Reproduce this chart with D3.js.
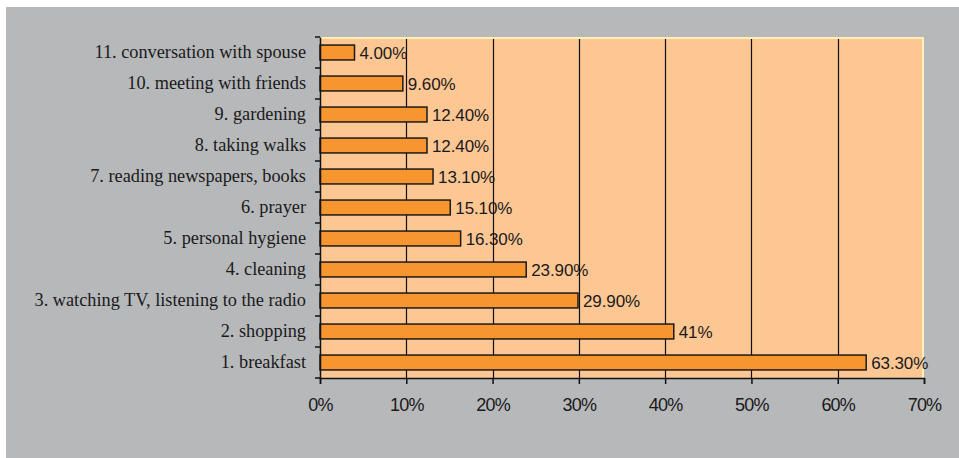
<!DOCTYPE html>
<html>
<head>
<meta charset="utf-8">
<script src="https://cdn.jsdelivr.net/npm/d3@7"></script>
<style>
  body { margin: 0; background: #fff; }
  svg { display: block; }
</style>
</head>
<body>
<svg id="chart"></svg>
<script>
// activites, du haut vers le bas
var activites = [
  "11. conversation with spouse",
  "10. meeting with friends",
  "9. gardening",
  "8. taking walks",
  "7. reading newspapers, books",
  "6. prayer",
  "5. personal hygiene",
  "4. cleaning",
  "3. watching TV, listening to the radio",
  "2. shopping",
  "1. breakfast"
];

var valeurs = [4.0, 9.6, 12.4, 12.4, 13.1, 15.1, 16.3, 23.9, 29.9, 41, 63.3];

var etiquettes = ["4.00%", "9.60%", "12.40%", "12.40%", "13.10%", "15.10%", "16.30%", "23.90%", "29.90%", "41%", "63.30%"];

var ticksX = [0, 10, 20, 30, 40, 50, 60, 70];

var W = 959, H = 458;
var marge = { left: 320, right: 35, top: 37, bottom: 80 };

var canevas = d3.select("#chart").attr("width", W).attr("height", H);

// fond gris
canevas.append("rect")
  .attr("x", 6).attr("y", 7)
  .attr("width", W - 6).attr("height", H - 7)
  .attr("fill", "#b7b8ba");

var x = d3.scaleLinear().domain([0, 70]).range([marge.left, W - marge.right]);
var y = d3.scaleBand().domain(activites).range([marge.top, H - marge.bottom]).paddingInner(0.52).paddingOuter(0.26);
var yBord = d3.scaleBand().domain(activites).range([marge.top, H - marge.bottom]);

// zone du graphique
canevas.append("rect")
  .attr("x", x(0)).attr("y", marge.top)
  .attr("width", x(70) - x(0)).attr("height", H - marge.bottom - marge.top)
  .attr("fill", "#fdc794");

// bord clair haut et droite
canevas.append("path")
  .attr("d", "M" + x(0) + "," + (marge.top + 1) + "H" + (x(70) - 1) + "V" + (H - marge.bottom))
  .attr("fill", "none")
  .attr("stroke", "#fff0b8")
  .attr("stroke-width", 2);

// grille verticale
canevas.selectAll("line.grille")
  .data(ticksX.slice(1, -1))
  .enter()
  .append("line")
  .attr("class", "grille")
  .attr("x1", function(d){ return Math.round(x(d)) + 0.5 })
  .attr("x2", function(d){ return Math.round(x(d)) + 0.5 })
  .attr("y1", marge.top + 2)
  .attr("y2", H - marge.bottom)
  .attr("stroke", "#111")
  .attr("stroke-width", 1.2);

// barres
canevas.selectAll("rect.barre")
  .data(valeurs)
  .enter()
  .append("rect")
  .attr("class", "barre")
  .attr("x", x(0))
  .attr("y", function(d, i){ return y(activites[i]) })
  .attr("width", function(d){ return x(d) - x(0) })
  .attr("height", y.bandwidth())
  .attr("fill", "#f7962e")
  .attr("stroke", "#1a1a1a")
  .attr("stroke-width", 1.5);

// etiquettes de valeur
canevas.selectAll("text.valeur")
  .data(valeurs)
  .enter()
  .append("text")
  .attr("class", "valeur")
  .attr("x", function(d){ return x(d) + 5 })
  .attr("y", function(d, i){ return y(activites[i]) + y.bandwidth() / 2 + 6 })
  .text(function(d, i){ return etiquettes[i] })
  .attr("fill", "#1a1a1a")
  .style("font-family", "Liberation Sans, Arial, sans-serif")
  .style("font-size", "17px")
  .style("letter-spacing", "-0.1px");

// axe y
var axeY = d3.axisLeft(yBord).tickSize(0).tickPadding(14);
var gY = canevas.append("g")
  .attr("transform", "translate(" + x(0) + ",0)")
  .call(axeY);
gY.select(".domain").attr("stroke", "#111").attr("stroke-width", 1.5);
gY.selectAll("text")
  .attr("fill", "#1a1a1a")
  .style("font-family", "Liberation Serif, Times New Roman, serif")
  .style("font-size", "18.3px");

// petits traits entre categories
canevas.selectAll("line.trait")
  .data(activites.concat([null]))
  .enter()
  .append("line")
  .attr("class", "trait")
  .attr("x1", x(0) - 5).attr("x2", x(0))
  .attr("y1", function(d){ return d === null ? H - marge.bottom : yBord(d) })
  .attr("y2", function(d){ return d === null ? H - marge.bottom : yBord(d) })
  .attr("stroke", "#111")
  .attr("stroke-width", 1.5);

// axe x
var axeX = d3.axisBottom(x).tickValues(ticksX).tickSize(6).tickPadding(14)
  .tickFormat(function(d){ return d + "%" });
var gX = canevas.append("g")
  .attr("transform", "translate(0," + (H - marge.bottom) + ")")
  .call(axeX);
gX.select(".domain").attr("stroke", "#111").attr("stroke-width", 1.5);
gX.selectAll(".tick line").attr("stroke", "#111").attr("stroke-width", 1.5);
gX.selectAll("text")
  .attr("fill", "#1a1a1a")
  .style("font-family", "Liberation Sans, Arial, sans-serif")
  .style("font-size", "18px")
  .style("letter-spacing", "-0.8px");
</script>
</body>
</html>
